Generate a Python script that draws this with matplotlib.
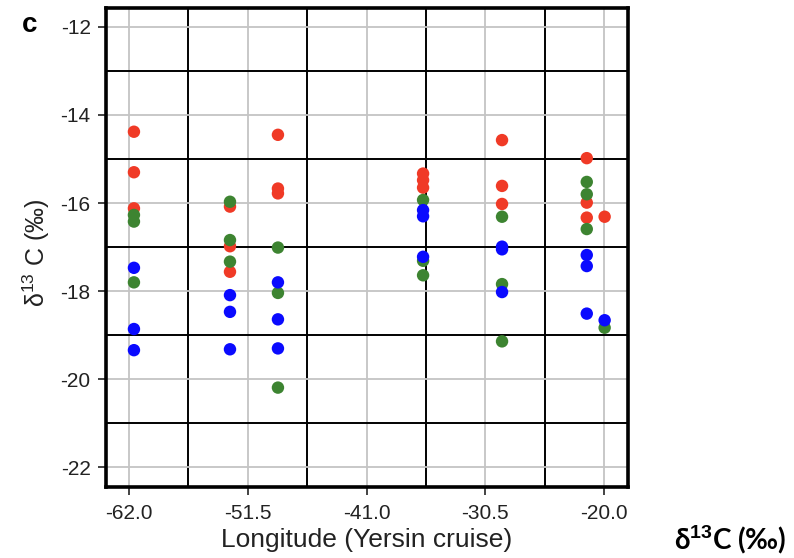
import numpy as np
import matplotlib
matplotlib.use('Agg')
import matplotlib.pyplot as plt

# station longitudes (Yersin cruise)
lon_red = [-61.56, -61.56, -61.56, -53.07, -53.07, -53.07, -48.83, -48.83, -48.83,
           -36.0, -36.0, -36.0, -29.02, -29.02, -29.02, -21.53, -21.53, -21.53, -19.95]
d13c_red = [-14.38, -15.30, -16.12, -16.08, -16.98, -17.56, -14.45, -15.67, -15.78,
            -15.33, -15.48, -15.65, -14.57, -15.61, -16.02, -14.98, -15.99, -16.33, -16.31]

lon_green = [-61.56, -61.56, -61.56, -53.07, -53.07, -53.07, -48.83, -48.83, -48.83,
             -36.0, -36.0, -36.0, -29.02, -29.02, -29.02, -21.53, -21.53, -21.53, -19.95]
d13c_green = [-16.27, -16.42, -17.80, -15.97, -16.84, -17.33, -17.01, -18.04, -20.19,
              -15.93, -17.31, -17.64, -16.31, -17.84, -19.14, -15.52, -15.80, -16.59, -18.83]

lon_blue = [-61.56, -61.56, -61.56, -53.07, -53.07, -53.07, -48.83, -48.83, -48.83,
            -36.0, -36.0, -36.0, -29.02, -29.02, -29.02, -21.53, -21.53, -21.53, -19.95]
d13c_blue = [-17.47, -18.86, -19.34, -18.09, -18.47, -19.32, -17.80, -18.64, -19.30,
             -16.16, -16.30, -17.22, -16.99, -17.05, -18.02, -17.18, -17.43, -18.51, -18.66]

xticks = [-62.0, -51.5, -41.0, -30.5, -20.0]
yticks = [-12, -14, -16, -18, -20, -22]

plt.rcParams['font.family'] = ['Liberation Sans', 'DejaVu Sans']
plt.rcParams['axes.unicode_minus'] = False
plt.rcParams['mathtext.fontset'] = 'custom'
plt.rcParams['mathtext.rm'] = 'Liberation Sans'
plt.rcParams['mathtext.bf'] = 'Liberation Sans:bold'

fig = plt.figure(figsize=(7.94, 5.58), dpi=100)
ax = fig.add_axes([0.1335, 0.127, 0.6575, 0.8587])

ax.set_xlim(-64.03, -17.88)
ax.set_ylim(-22.45, -11.57)

# grid: gray on ticks, black halfway between
for x in xticks:
    ax.axvline(x, color='#c4c4c4', lw=1.3, zorder=0)
for x in np.array(xticks[:-1]) + 5.25:
    ax.axvline(x, color='black', lw=1.4, zorder=0)
for y in yticks:
    ax.axhline(y, color='#c4c4c4', lw=1.3, zorder=0)
for y in [-13, -15, -17, -19, -21]:
    ax.axhline(y, color='black', lw=1.4, zorder=0)

ms = 80
ax.scatter(lon_red, d13c_red, s=ms, color='#f03a26', edgecolors='none', zorder=3)
ax.scatter(lon_green, d13c_green, s=ms, color='#3d8431', edgecolors='none', zorder=4)
ax.scatter(lon_blue, d13c_blue, s=ms, color='#0a0aff', edgecolors='none', zorder=5)

ax.set_xticks(xticks)
ax.set_xticklabels(['%.1f' % v for v in xticks])
ax.set_yticks(yticks)
ax.tick_params(axis='both', direction='out', length=6, width=1.2, labelsize=15,
               colors='#222222', labelcolor='#222222')
ax.tick_params(axis='y', pad=5)
ax.tick_params(axis='x', pad=6)
for sp in ax.spines.values():
    sp.set_linewidth(2.6)
    sp.set_color('black')

ax.set_xlabel('Longitude (Yersin cruise)', fontsize=19, color='#222222', labelpad=4)
ax.set_ylabel('δ$^{\\mathrm{13}}$ C (‰)', fontsize=18, color='#222222')
ax.yaxis.set_label_coords(-0.103, 0.49)

fig.text(0.027, 0.955, 'c', fontsize=20, fontweight='bold', ha='left', va='center')
fig.text(0.99, 0.032, 'δ$^{\\mathbf{13}}$C (‰)', fontsize=20, fontweight='bold',
         ha='right', va='center', family=['Lato', 'DejaVu Sans'])

fig.savefig('out.png', dpi=100)
